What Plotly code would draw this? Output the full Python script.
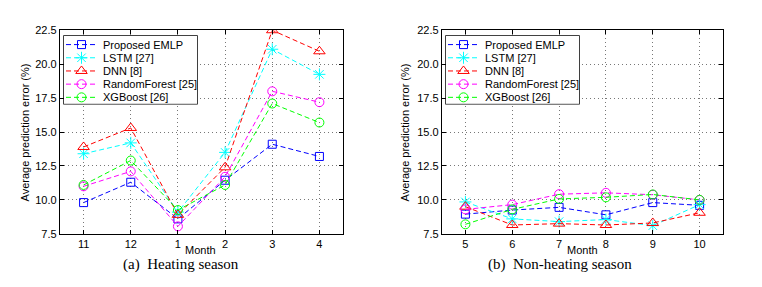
import plotly.graph_objects as go

PAGE_W, PAGE_H = 762, 287
BODY_MARGIN = 8  # default page body margin around the plot div
W, H = PAGE_W - 2 * BODY_MARGIN, PAGE_H - 2 * BODY_MARGIN

series_names = ["Proposed EMLP", "LSTM [27]", "DNN [8]", "RandomForest [25]", "XGBoost [26]"]
series_colors = ["#0000FF", "#00FFFF", "#FF0000", "#FF00FF", "#00FF00"]
series_symbols = ["square-open", "asterisk-open", "triangle-up-open", "circle-open", "circle-open"]
series_sizes = [8, 10, 10, 9, 9]

heating_months = ["11", "12", "1", "2", "3", "4"]
heating_emlp = [9.8, 11.3, 8.6, 11.45, 14.1, 13.2]
heating_lstm = [13.4, 14.2, 9.1, 13.5, 21.1, 19.25]
heating_dnn = [13.9, 15.3, 8.9, 12.4, 22.5, 20.95]
heating_rf = [11.0, 12.1, 8.05, 11.7, 18.0, 17.2]
heating_xgb = [11.1, 12.9, 9.25, 11.1, 17.1, 15.7]

nonheating_months = ["5", "6", "7", "8", "9", "10"]
nonheating_emlp = [8.95, 9.25, 9.45, 8.9, 9.8, 9.6]
nonheating_lstm = [9.85, 8.6, 8.4, 8.55, 8.1, 9.65]
nonheating_dnn = [9.5, 8.15, 8.25, 8.15, 8.3, 9.05]
nonheating_rf = [9.3, 9.65, 10.42, 10.52, 10.38, 10.0]
nonheating_xgb = [8.2, 9.3, 10.07, 10.19, 10.4, 10.0]

y_ticks = [7.5, 10.0, 12.5, 15.0, 17.5, 20.0, 22.5]

heating = [heating_emlp, heating_lstm, heating_dnn, heating_rf, heating_xgb]
nonheating = [nonheating_emlp, nonheating_lstm, nonheating_dnn, nonheating_rf, nonheating_xgb]


def px_x(p):
    return (p - BODY_MARGIN) / W


def px_y(p):
    return 1 - (p - BODY_MARGIN) / H


fig = go.Figure()
DASH = "5px,3px"


def add_panel(months, data, xa, ya):
    idx = list(range(len(months)))
    for name, color, sym, sz, vals in zip(series_names, series_colors, series_symbols, series_sizes, data):
        fig.add_trace(go.Scatter(
            x=idx, y=vals, name=name, mode="lines+markers",
            xaxis=xa, yaxis=ya, showlegend=False, hoverinfo="x+y+name",
            line=dict(color=color, width=1, dash=DASH),
            marker=dict(symbol=sym, color=color, size=sz, line=dict(color=color, width=1)),
        ))


add_panel(heating_months, heating, "x", "y")
add_panel(nonheating_months, nonheating, "x2", "y2")

font = dict(family="Liberation Sans, Arial, sans-serif", size=11, color="#000")

axis_common = dict(
    showline=True, linecolor="#000", linewidth=1.3, mirror="allticks",
    ticks="inside", ticklen=4, tickcolor="#000",
    showgrid=True, gridcolor="#777", griddash="1px,3px", gridwidth=1,
    zeroline=False, tickfont=font,
)

ydom = [px_y(238), px_y(25)]

# legend box geometry (page pixels)
LEG_W, LEG_H = 133, 71
LEG_ROW0, LEG_ROW_STEP = 9, 13.8
LEG_LINE = [2, 33]
LEG_TEXT_X = 37
legend_boxes = [(64, 31, "x3", "y3"), (446, 31, "x4", "y4")]

layout_axes = dict(
    xaxis=dict(domain=[px_x(60), px_x(343)], range=[-0.5, 5.5],
               tickvals=list(range(6)), ticktext=heating_months, anchor="y", **axis_common),
    yaxis=dict(domain=ydom, range=[7.5, 22.5], tickvals=y_ticks, tickformat=".1f",
               anchor="x", **axis_common),
    xaxis2=dict(domain=[px_x(442), px_x(723)], range=[-0.5, 5.5],
                tickvals=list(range(6)), ticktext=nonheating_months, anchor="y2", **axis_common),
    yaxis2=dict(domain=ydom, range=[7.5, 22.5], tickvals=y_ticks, tickformat=".1f",
                anchor="x2", **axis_common),
)

shapes = []
ann = []
for (lx, ly, xa, ya) in legend_boxes:
    n = xa[1:]
    layout_axes["xaxis" + n] = dict(domain=[px_x(lx), px_x(lx + LEG_W)], range=[0, LEG_W],
                                    visible=False, fixedrange=True, anchor=ya)
    layout_axes["yaxis" + n] = dict(domain=[px_y(ly + LEG_H), px_y(ly)], range=[LEG_H, 0],
                                    visible=False, fixedrange=True, anchor=xa)
    shapes.append(dict(type="rect", xref=xa + " domain", yref=ya + " domain",
                       x0=0, x1=1, y0=0, y1=1, line=dict(color="#000", width=1.5),
                       fillcolor="white", layer="below"))
    for i, (name, color, sym, sz) in enumerate(zip(series_names, series_colors, series_symbols, series_sizes)):
        ry = LEG_ROW0 + LEG_ROW_STEP * i
        fig.add_trace(go.Scatter(x=LEG_LINE, y=[ry, ry], mode="lines", xaxis=xa, yaxis=ya,
                                 showlegend=False, hoverinfo="skip",
                                 line=dict(color=color, width=1, dash=DASH)))
        fig.add_trace(go.Scatter(x=[sum(LEG_LINE) / 2], y=[ry], mode="markers", xaxis=xa, yaxis=ya,
                                 showlegend=False, hoverinfo="skip",
                                 marker=dict(symbol=sym, color=color, size=sz,
                                             line=dict(color=color, width=1))))
        ann.append(dict(text=name, x=LEG_TEXT_X, y=ry, xref=xa, yref=ya, showarrow=False,
                        font=font, xanchor="left", yanchor="middle"))

fig.update_layout(
    width=W, height=H,
    margin=dict(l=0, r=0, t=0, b=0),
    paper_bgcolor="white", plot_bgcolor="white",
    showlegend=False,
    **layout_axes,
)

for cx in (25, 405):
    ann.append(dict(text="Average prediction error (%)", x=px_x(cx), y=px_y(132),
                    xref="paper", yref="paper", textangle=-90, showarrow=False,
                    font=font, xanchor="center", yanchor="middle"))
for cx in (200, 582):
    ann.append(dict(text="Month", x=px_x(cx), y=px_y(255), xref="paper", yref="paper",
                    showarrow=False, font=font, xanchor="center", yanchor="middle"))
serif = dict(family="Liberation Serif, Times New Roman, serif", size=15, color="#000")
ann.append(dict(text="(a)  Heating season", x=px_x(181), y=px_y(270), xref="paper", yref="paper",
                showarrow=False, font=serif, xanchor="center", yanchor="middle"))
ann.append(dict(text="(b)  Non-heating season", x=px_x(560), y=px_y(270), xref="paper", yref="paper",
                showarrow=False, font=serif, xanchor="center", yanchor="middle"))
fig.update_layout(annotations=ann, shapes=shapes)

fig.write_html("out.html")
